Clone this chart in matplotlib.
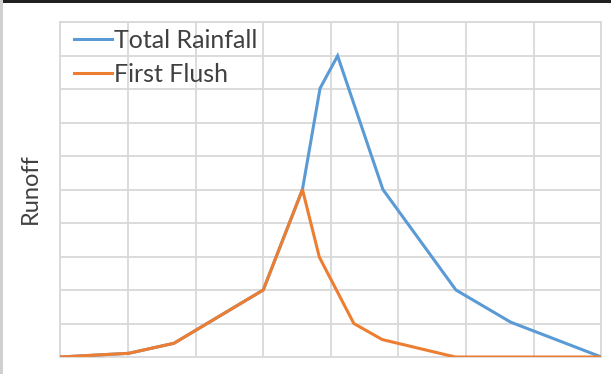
import matplotlib
matplotlib.use("Agg")
import matplotlib.pyplot as plt
from matplotlib.patches import Rectangle

# Data (x in grid units, y in grid units)
total_x = [0, 1.01, 1.68, 3.0, 3.58, 3.84, 4.10, 4.77, 5.85, 6.66, 8.0]
total_y = [0, 0.11, 0.41, 2.0, 5.0, 8.02, 8.99, 5.0, 2.0, 1.04, 0.0]
flush_x = [0, 1.01, 1.68, 3.0, 3.58, 3.83, 4.34, 4.76, 5.84, 8.0]
flush_y = [0, 0.11, 0.41, 2.0, 5.0, 2.98, 1.0, 0.52, 0.0, 0.0]
series_labels = ["Total Rainfall", "First Flush"]
y_label = "Runoff"

plt.rcParams['font.family'] = ['Lato', 'DejaVu Sans']

fig = plt.figure(figsize=(6.11, 3.74), dpi=100)
fig.patch.set_facecolor("white")
ax = fig.add_axes([60.4 / 611, 1 - 357 / 374, (601.3 - 60.4) / 611, (357 - 22) / 374])

ax.plot(total_x, total_y, color="#5B9BD5", lw=2.2, label=series_labels[0], solid_joinstyle="miter", zorder=3)
ax.plot(flush_x, flush_y, color="#ED7D31", lw=2.2, label=series_labels[1], solid_joinstyle="miter", zorder=4)

ax.set_xlim(0, 8)
ax.set_ylim(0, 10)
ax.set_xticks(range(0, 9))
ax.set_yticks(range(0, 11))
ax.tick_params(left=False, bottom=False, labelleft=False, labelbottom=False)
ax.grid(True, color="#D9D9D9", lw=1.3)
ax.set_axisbelow(True)
for s in ax.spines.values():
    s.set_color("#D9D9D9")
    s.set_linewidth(1.3)

fig.text(30 / 611, 1 - 189 / 374, y_label, rotation=90, ha="center", va="center",
         fontsize=17, color="#404040")

leg = ax.legend(loc="upper left", bbox_to_anchor=(0.026, 0.98), frameon=False,
                fontsize=18, handlelength=1.5, handletextpad=0.1, labelspacing=0.45,
                borderaxespad=0.0, borderpad=0.0)
for t in leg.get_texts():
    t.set_color("#404040")

# screenshot edges
fig.add_artist(Rectangle((0, 1 - 2.5 / 374), 1, 2.5 / 374, transform=fig.transFigure,
                         color="#202020", lw=0))
fig.add_artist(Rectangle((0, 0), 3 / 611, 1, transform=fig.transFigure,
                         color="#D0D0D0", lw=0))

fig.savefig("out.png", dpi=100)
